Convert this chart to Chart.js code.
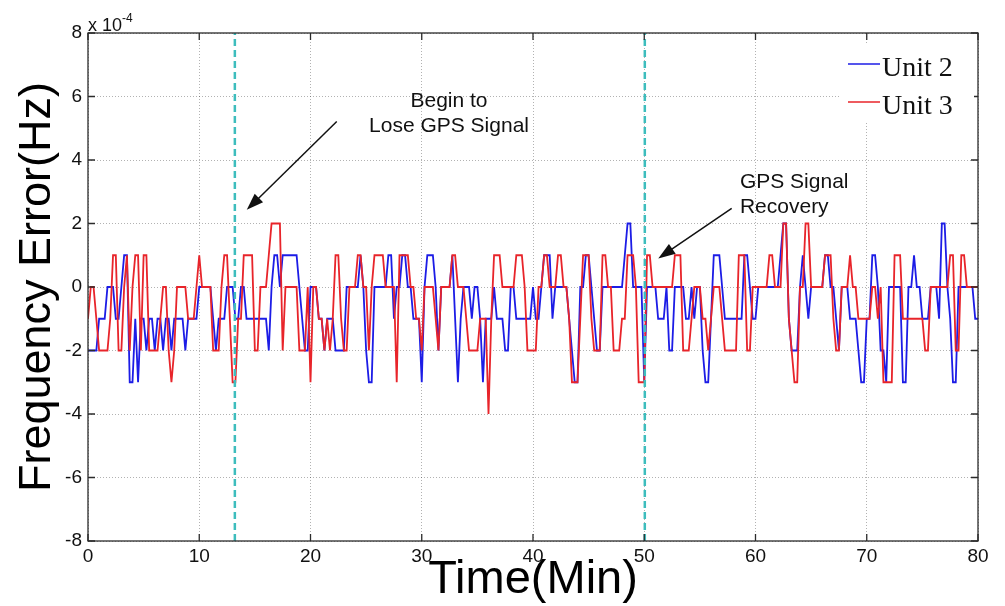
<!DOCTYPE html>
<html>
<head>
<meta charset="utf-8">
<script src="https://cdn.jsdelivr.net/npm/chart.js@4.4.0/dist/chart.umd.min.js"></script>
<style>
html, body { margin: 0; padding: 0; background: #fff; }
#wrap { width: 1005px; height: 606px; }
</style>
</head>
<body>
<div id="wrap"><canvas id="freqChart" width="1005" height="606"></canvas></div>
<script>
// sampling interval of both units, minutes
var timeStep = 0.25;

// frequency error, units of 1e-4 Hz, one row = 5 minutes
var unit2 = [
    -2,-2,-2,-2, -1,-1,-1,0, 0,0,-1,-1, 0,1,1,-3, -3,-1,-3,-1,
    -1,-2,-1,-1, -2,-1,-1,-2, -1,-1,-2,-1, -1,-1,-1,-2, -1,-1,-1,-1,
    0,0,0,0, 0,-1,-2,-1, -1,-1,0,0, 0,-1,-1,0, 0,-1,-1,-1,
    -1,-1,-1,-1, -1,-2,0,1, 1,0,1,1, 1,1,1,1, 0,-1,-2,-2,
    0,0,0,-1, -1,-2,-1,-1, -1,-2,-2,-2, -2,0,0,0, 0,0,1,0,
    -2,-3,-3,0, 0,0,0,0, 1,1,-1,0, 0,1,1,0, 0,-1,-1,-1,
    -3,0,1,1, 1,0,-2,0, 0,0,0,1, -1,-3,-1,0, 0,0,-1,0,
    0,-1,-3,-1, -1,-1,0,-1, -1,-1,-2,-2, 0,0,-1,-1, -1,-1,-1,-1,
    0,-1,-1,0, 1,1,1,-1, 0,0,0,0, 0,-1,-2,-3, -3,0,0,1,
    1,0,-1,-2, -2,0,0,0, 0,0,0,0, 0,1,2,2, 0,0,0,0,
    -3,0,0,0, 0,-1,-1,-1, 0,-2,-2,0, 0,0,0,-1, -1,0,-1,0,
    0,-2,-3,-3, -1,1,1,1, 0,-1,-1,-1, -1,-1,-1,-1, 1,1,0,-1,
    -1,0,0,0, 0,0,0,0, 0,1,2,2, -1,-2,-2,-2, 0,1,0,-1,
    0,0,0,0, 0,1,1,0, 0,-1,-2,0, 0,0,-1,-1, -1,-2,-3,-3,
    -1,-1,1,1, 0,-2,-2,-3, 0,0,0,0, 0,-3,-3,0, 0,1,0,0,
    -1,-1,-1,0, 0,0,-1,2, 2,0,-1,-3, -3,0,0,0, 0,0,0,-1,
    -1
];
var unit3 = [
    -1,0,0,-1, -2,-2,-2,-2, -1,1,1,-2, -2,0,1,-2, 0,1,1,-2,
    1,1,-2,-2, -2,-2,-1,0, 0,-2,-3,-2, 0,0,0,0, -1,-1,-1,0,
    1,0,0,0, 0,-2,-2,-2, 0,1,1,-1, -3,-3,-1,-1, 1,1,1,1,
    -2,-2,0,0, 0,1,2,2, 2,2,-2,0, 0,0,0,0, -2,-2,-2,0,
    -3,0,0,-1, -1,-2,-1,-2, -1,1,1,-1, -2,-2,0,0, 0,1,1,0,
    0,-2,0,1, 1,1,1,0, 0,0,0,-3, 1,1,1,1, 0,0,-1,-1,
    -2,0,0,0, 0,-1,-2,0, 0,0,0,1, 1,0,0,0, -1,-2,-2,-2,
    -2,-1,-1,-1, -4,-1,1,1, 1,0,0,0, 0,0,1,1, 1,0,-2,-2,
    -2,-2,0,0, 1,1,0,0, 0,1,1,0, 0,-1,-3,-3, -3,-1,1,1,
    1,-1,-2,-2, -2,1,1,0, 0,-2,-2,-2, -1,-1,1,1, 1,0,-3,-3,
    -3,1,1,0, 0,0,0,0, 0,0,0,1, 1,1,-2,-2, -2,-1,0,0,
    0,-1,-1,-2, -1,0,0,0, -1,-2,-2,-2, -2,-2,1,1, 1,-2,-2,0,
    0,0,0,0, 0,1,1,0, 0,0,2,2, -1,-2,-3,-3, 0,0,2,2,
    0,0,0,0, 0,1,1,1, -1,-2,-2,0, 0,0,1,0, 0,-1,-1,-1,
    -1,-1,0,0, -1,0,-3,-3, -3,-3,1,1, 1,-1,-1,-1, -1,-1,-1,-1,
    -1,-2,-2,0, 0,0,0,0, 0,0,1,1, -2,-2,1,1, 0,0,0,0,
    0
];

var seriesNames = ['Unit 2', 'Unit 3'];
var xTicks = [0, 10, 20, 30, 40, 50, 60, 70, 80];
var yTicks = [-8, -6, -4, -2, 0, 2, 4, 6, 8];
// moments the GPS signal was lost and came back, minutes
var gpsEvents = [13.2, 50.05];

var FONT = '"Liberation Sans", Arial, Helvetica, sans-serif';
var SERIF = '"Liberation Serif", "Times New Roman", serif';

// callouts in data coordinates (minutes, 1e-4 Hz)
var callouts = [
    { text: ['Begin to', 'Lose GPS Signal'], align: 'center', x: 32.45, y: 5.67, from: [22.36, 5.21], to: [14.27, 2.43] },
    { text: ['GPS Signal', 'Recovery'], align: 'left', x: 58.6, y: 3.12, from: [57.86, 2.48], to: [51.26, 0.90] }
];

function toPoints(values) {
    return values.map(function (v, i) { return { x: i * timeStep, y: v }; });
}

function eventLine(t) {
    return {
        data: [{ x: t, y: -8 }, { x: t, y: 8 }],
        borderColor: '#3dbdbd',
        borderWidth: 2.5,
        borderDash: [7, 4],
        pointRadius: 0,
        order: 0
    };
}

function drawArrow(ctx, x1, y1, x2, y2) {
    var a = Math.atan2(y2 - y1, x2 - x1);
    var c = Math.cos(a), s = Math.sin(a);
    ctx.beginPath();
    ctx.moveTo(x1, y1);
    ctx.lineTo(x2 - 12 * c, y2 - 12 * s);
    ctx.stroke();
    ctx.beginPath();
    ctx.moveTo(x2, y2);
    ctx.lineTo(x2 - 17 * c + 6 * s, y2 - 17 * s - 6 * c);
    ctx.lineTo(x2 - 17 * c - 6 * s, y2 - 17 * s + 6 * c);
    ctx.closePath();
    ctx.fill();
}

// box, inward ticks, exponent, callouts and legend
var matlabLook = {
    id: 'matlabLook',
    afterDraw: function (chart) {
        var ctx = chart.ctx;
        var area = chart.chartArea;
        var xs = chart.scales.x, ys = chart.scales.y;
        ctx.save();

        ctx.strokeStyle = '#2b2b2b';
        ctx.lineWidth = 1.3;
        ctx.strokeRect(area.left, area.top, area.right - area.left, area.bottom - area.top);
        ctx.beginPath();
        xTicks.forEach(function (t) {
            var px = xs.getPixelForValue(t);
            ctx.moveTo(px, area.bottom); ctx.lineTo(px, area.bottom - 7);
            ctx.moveTo(px, area.top); ctx.lineTo(px, area.top + 7);
        });
        yTicks.forEach(function (t) {
            var py = ys.getPixelForValue(t);
            ctx.moveTo(area.left, py); ctx.lineTo(area.left + 7, py);
            ctx.moveTo(area.right, py); ctx.lineTo(area.right - 7, py);
        });
        ctx.stroke();

        // x 10^-4 multiplier
        ctx.fillStyle = '#111';
        ctx.textBaseline = 'alphabetic';
        ctx.textAlign = 'left';
        ctx.font = '18px ' + FONT;
        ctx.fillText('x 10', area.left, area.top - 2);
        var w = ctx.measureText('x 10').width;
        ctx.font = '12px ' + FONT;
        ctx.fillText('-4', area.left + w, area.top - 11);

        // callouts
        ctx.strokeStyle = '#111';
        ctx.lineWidth = 1.5;
        ctx.font = '21px ' + FONT;
        callouts.forEach(function (c) {
            var tx = xs.getPixelForValue(c.x), ty = ys.getPixelForValue(c.y);
            ctx.textAlign = c.align;
            c.text.forEach(function (line, i) { ctx.fillText(line, tx, ty + i * 25); });
            drawArrow(ctx,
                xs.getPixelForValue(c.from[0]), ys.getPixelForValue(c.from[1]),
                xs.getPixelForValue(c.to[0]), ys.getPixelForValue(c.to[1]));
        });

        // legend
        ctx.fillStyle = '#fff';
        ctx.fillRect(840, 44, 134, 78);
        ctx.font = '28px ' + SERIF;
        ctx.textAlign = 'left';
        ctx.lineWidth = 1.5;
        [0, 1].forEach(function (i) {
            var ds = chart.data.datasets[i + gpsEvents.length];
            var ly = 64 + i * 38;
            ctx.strokeStyle = ds.borderColor;
            ctx.beginPath(); ctx.moveTo(848, ly); ctx.lineTo(880, ly); ctx.stroke();
            ctx.fillStyle = '#111';
            ctx.fillText(ds.label, 882, ly + 12);
        });
        ctx.restore();
    }
};

new Chart(document.getElementById('freqChart'), {
    type: 'line',
    data: {
        datasets: gpsEvents.map(eventLine).concat([
            { label: seriesNames[0], data: toPoints(unit2), borderColor: '#1c1ce6', borderWidth: 1.8, pointRadius: 0, tension: 0, order: 2 },
            { label: seriesNames[1], data: toPoints(unit3), borderColor: '#e8242a', borderWidth: 1.8, pointRadius: 0, tension: 0, order: 1 }
        ])
    },
    options: {
        responsive: false,
        animation: false,
        devicePixelRatio: 1,
        layout: { padding: { top: 33, right: 27, left: 0, bottom: 0 } },
        plugins: { legend: { display: false }, tooltip: { enabled: false } },
        scales: {
            x: {
                type: 'linear', min: 0, max: 80,
                afterFit: function (s) { s.height = 65; },
                afterBuildTicks: function (s) { s.ticks = xTicks.map(function (v) { return { value: v }; }); },
                grid: { color: 'rgba(0,0,0,0.3)', lineWidth: 1, drawTicks: false },
                border: { display: false, dash: [1, 2] },
                ticks: { color: '#111', padding: 4, maxRotation: 0, font: { family: FONT, size: 19 } },
                title: { display: true, text: 'Time(Min)', color: '#000', padding: { top: 0, bottom: 2 },
                         font: { family: FONT, size: 47, lineHeight: 1 } }
            },
            y: {
                min: -8, max: 8,
                afterFit: function (s) { s.width = 88; },
                afterBuildTicks: function (s) { s.ticks = yTicks.map(function (v) { return { value: v }; }); },
                grid: { color: 'rgba(0,0,0,0.3)', lineWidth: 1, drawTicks: false },
                border: { display: false, dash: [1, 2] },
                ticks: { color: '#111', padding: 6, font: { family: FONT, size: 19 } },
                title: { display: true, text: 'Frequency Error(Hz)', color: '#000', padding: { top: 15, bottom: 0 },
                         font: { family: FONT, size: 45, lineHeight: 1 } }
            }
        }
    },
    plugins: [matlabLook]
});
</script>
</body>
</html>
